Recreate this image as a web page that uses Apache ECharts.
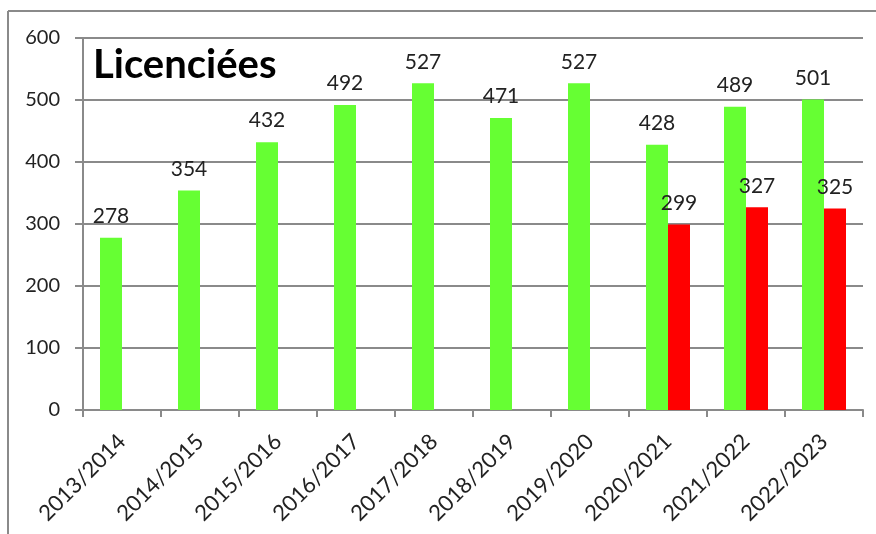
<!DOCTYPE html>
<html>
<head>
<meta charset="utf-8">
<script src="https://cdn.jsdelivr.net/npm/echarts@6/dist/echarts.min.js"></script>
<style>
html,body{margin:0;padding:0;background:#fff;}
#c{width:876px;height:534px;}
</style>
</head>
<body>
<div id="c"></div>
<script>
var categories = ['2013/2014','2014/2015','2015/2016','2016/2017','2017/2018','2018/2019','2019/2020','2020/2021','2021/2022','2022/2023'];
var greenValues = [278,354,432,492,527,471,527,428,489,501];
var redValues = [null,null,null,null,null,null,null,299,327,325];
var yTicks = {min:0, max:600, interval:100};
var titleText = 'Licenciées';

var FONT = 'Lato';
var chart = echarts.init(document.getElementById('c'), null, {renderer:'canvas'});
var labelStyle = {show:true, position:'top', distance:11, fontFamily:FONT, fontSize:21, color:'#222'};
chart.setOption({
  animation:false,
  backgroundColor:'#fff',
  grid:{left:83, right:13, top:38, bottom:124, containLabel:false},
  graphic:[
    {type:'line', shape:{x1:8,y1:11,x2:876,y2:11}, style:{stroke:'#8a8a8a', lineWidth:2}},
    {type:'line', shape:{x1:8,y1:11,x2:8,y2:534}, style:{stroke:'#8a8a8a', lineWidth:2}},
    {type:'text', left:93, top:45, style:{text:titleText, font:'bold 40px ' + FONT, fill:'#000'}}
  ],
  xAxis:{
    type:'category', data:categories,
    axisLine:{lineStyle:{color:'#8a8a8a', width:2}},
    axisTick:{show:true, length:7, lineStyle:{color:'#8a8a8a', width:2}},
    axisLabel:{rotate:45, margin:28, fontFamily:FONT, fontSize:22, color:'#222', interval:0}
  },
  yAxis:{
    type:'value', min:yTicks.min, max:yTicks.max, interval:yTicks.interval,
    axisLine:{show:true, lineStyle:{color:'#8a8a8a', width:2}},
    axisTick:{show:true, length:8, lineStyle:{color:'#8a8a8a', width:2}},
    splitLine:{lineStyle:{color:'#8a8a8a', width:2}},
    axisLabel:{margin:23, fontFamily:FONT, fontSize:20, color:'#222'}
  },
  series:[
    {type:'bar', data:greenValues, barWidth:22, barGap:'0%', itemStyle:{color:'#66FF33'}, label:labelStyle},
    {type:'bar', data:redValues, barWidth:22, barGap:'0%', itemStyle:{color:'#FF0000'}, label:labelStyle}
  ]
});
</script>
</body>
</html>
